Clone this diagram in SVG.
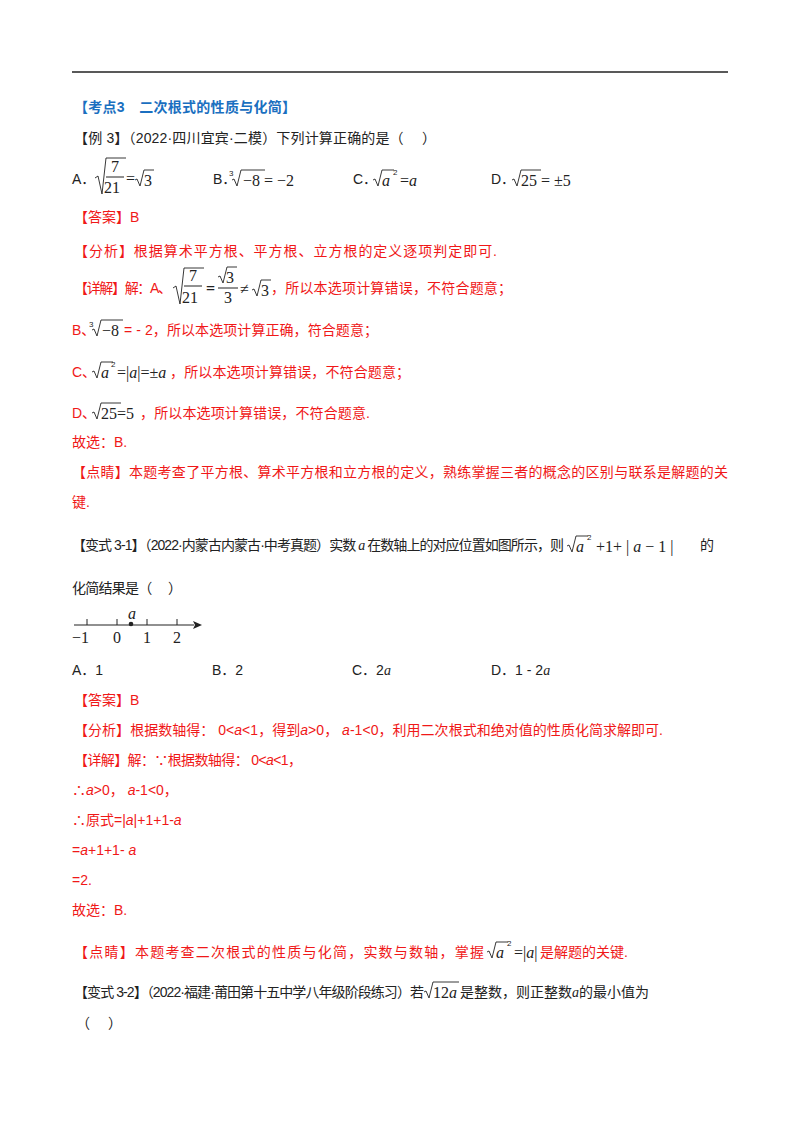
<svg xmlns="http://www.w3.org/2000/svg" width="800" height="1132" viewBox="0 0 800 1132">
<style>
text{font-family:"Liberation Sans","Noto Sans CJK SC",sans-serif;font-size:14px;fill:#222}
.r{fill:#f01818}
.b{fill:#1a6fc0;font-weight:bold}
.m{font-family:"Liberation Serif","Noto Sans CJK SC",serif;font-size:16px}
.i{font-style:italic}
.s{font-size:8px}
.rad{fill:none;stroke:#222;stroke-width:0.9}
</style>
<rect width="800" height="1132" fill="#fff"/>
<line x1="72" y1="72" x2="728" y2="72" stroke="#222" stroke-width="1.5"/>
<text x="74" y="112" class="b" textLength="222">【考点3　二次根式的性质与化简】</text>
<text x="74" y="143" textLength="362">【例 3】（2022·四川宜宾·二模）下列计算正确的是（　 ）</text>
<g id="options1">
<text x="72" y="184">A．</text>
<path class="rad" d="M95,178 l3,-2 l4,18 l4,-36 h20"/>
<text x="111" y="172" class="m">7</text><line x1="106" y1="177" x2="124" y2="177" stroke="#222"/><text x="104" y="193" class="m">21</text>
<text x="126" y="184" class="m">=</text><path class="rad" d="M135,180 l2,-1 l3,7 l4,-16 h10"/><text x="144" y="186" class="m">3</text>
<text x="213" y="184">B．</text><text x="229" y="176" class="s">3</text>
<path class="rad" d="M232,180 l2,-1 l3,7 l4,-16 h24"/><text x="243" y="186" class="m">−8 = −2</text>
<text x="353" y="184">C．</text><path class="rad" d="M373,180 l2,-1 l3,7 l4,-16 h12"/>
<text x="382" y="186" class="m i">a</text><text x="393" y="175" class="s">2</text><text x="400" y="186" class="m">=<tspan class="i">a</tspan></text>
<text x="491" y="184">D．</text><path class="rad" d="M512,180 l2,-1 l3,7 l4,-16 h20"/><text x="521" y="186" class="m">25 = ±5</text>
</g>
<text x="74" y="222" class="r">【答案】B</text>
<text x="74" y="256" class="r" textLength="423">【分析】根据算术平方根、平方根、立方根的定义逐项判定即可.</text>
<g id="detail1">
<text x="74" y="293" class="r" textLength="98">【详解】解：A、</text>
<path class="rad" d="M173,288 l3,-2 l4,18 l4,-36 h20"/>
<text x="189" y="281" class="m">7</text><line x1="184" y1="286" x2="202" y2="286" stroke="#222"/><text x="182" y="303" class="m">21</text>
<text x="206" y="294" class="m" font-weight="bold">=</text>
<path class="rad" d="M218,277 l2,-1 l3,7 l4,-16 h10"/><text x="226" y="283" class="m">3</text>
<line x1="218" y1="288" x2="238" y2="288" stroke="#222"/><text x="224" y="303" class="m">3</text>
<text x="240" y="294" class="m">≠</text><path class="rad" d="M252,290 l2,-1 l3,7 l4,-16 h10"/><text x="261" y="296" class="m">3</text>
<text x="271" y="293" class="r" textLength="241">，所以本选项计算错误，不符合题意；</text>
</g>
<text x="72" y="335" class="r">B、</text><text x="89" y="327" class="s">3</text>
<path class="rad" d="M92,330 l2,-1 l3,7 l4,-16 h22"/><text x="102" y="336" class="m">−8</text>
<text x="124" y="335" class="r" textLength="254">= - 2，所以本选项计算正确，符合题意；</text>
<text x="72" y="377" class="r">C、</text><path class="rad" d="M92,372 l2,-1 l3,7 l4,-16 h12"/>
<text x="101" y="378" class="m i">a</text><text x="111" y="367" class="s">2</text>
<text x="117" y="378" class="m">=|<tspan class="i">a</tspan>|=±<tspan class="i">a</tspan></text>
<text x="170" y="377" class="r" textLength="240">，所以本选项计算错误，不符合题意；</text>
<text x="72" y="418" class="r">D、</text><path class="rad" d="M92,413 l2,-1 l3,7 l4,-16 h20"/>
<text x="101" y="419" class="m">25=5</text>
<text x="140" y="418" class="r" textLength="230">，所以本选项计算错误，不符合题意.</text>
<text x="72" y="447" class="r">故选：B.</text>
<text x="72" y="477" class="r" textLength="656">【点睛】本题考查了平方根、算术平方根和立方根的定义，熟练掌握三者的概念的区别与联系是解题的关</text>
<text x="72" y="507" class="r">键.</text>
<text x="72" y="550" textLength="492">【变式 3-1】（2022·内蒙古内蒙古·中考真题）实数 <tspan class="i" font-family="Liberation Serif">a</tspan> 在数轴上的对应位置如图所示，则</text>
<path class="rad" d="M567,546 l2,-1 l3,7 l4,-16 h12"/>
<text x="576" y="552" class="m i">a</text><text x="587" y="540" class="s">2</text>
<text x="596" y="552" class="m">+1+ | <tspan class="i">a</tspan> − 1 |</text><text x="700" y="550">的</text>
<text x="72" y="593" textLength="110">化简结果是（　 ）</text>
<g id="numberline">
<line x1="74" y1="625" x2="194" y2="625" stroke="#222" stroke-width="1.2"/>
<path d="M202,625 l-9,-4 l2,4 l-2,4 z" fill="#222"/>
<g stroke="#222"><line x1="87" y1="619" x2="87" y2="625"/><line x1="117" y1="619" x2="117" y2="625"/><line x1="147" y1="619" x2="147" y2="625"/><line x1="177" y1="619" x2="177" y2="625"/></g>
<circle cx="131" cy="624" r="2.3" fill="#222"/>
<text x="128" y="619" class="m i">a</text>
<text x="72" y="643" class="m">−1</text><text x="113" y="643" class="m">0</text><text x="143" y="643" class="m">1</text><text x="173" y="643" class="m">2</text>
</g>
<text x="72" y="675">A．1</text><text x="212" y="675">B．2</text><text x="352" y="675">C．2<tspan class="i" font-family="Liberation Serif">a</tspan></text><text x="491" y="675">D．1 - 2<tspan class="i" font-family="Liberation Serif">a</tspan></text>
<text x="74" y="705" class="r">【答案】B</text>
<text x="74" y="735" class="r" textLength="589">【分析】根据数轴得： 0&lt;<tspan class="i">a</tspan>&lt;1，得到<tspan class="i">a</tspan>&gt;0， <tspan class="i">a</tspan>-1&lt;0，利用二次根式和绝对值的性质化简求解即可.</text>
<text x="74" y="765" class="r" textLength="228">【详解】解：∵根据数轴得： 0&lt;<tspan class="i">a</tspan>&lt;1，</text>
<text x="72" y="795" class="r">∴<tspan class="i">a</tspan>&gt;0，  <tspan class="i">a</tspan>-1&lt;0，</text>
<text x="72" y="825" class="r">∴原式=|<tspan class="i">a</tspan>|+1+1-<tspan class="i">a</tspan></text>
<text x="72" y="855" class="r">=<tspan class="i">a</tspan>+1+1-  <tspan class="i">a</tspan></text>
<text x="72" y="885" class="r">=2.</text>
<text x="72" y="915" class="r">故选：B.</text>
<text x="74" y="957" class="r" textLength="410">【点睛】本题考查二次根式的性质与化简，实数与数轴，掌握</text>
<path class="rad" d="M487,952 l2,-1 l3,7 l4,-16 h12"/>
<text x="496" y="958" class="m i">a</text><text x="507" y="946" class="s">2</text>
<text x="514" y="958" class="m">=|<tspan class="i">a</tspan>|</text>
<text x="540" y="957" class="r">是解题的关键.</text>
<text x="74" y="997" textLength="350">【变式 3-2】（2022·福建·莆田第十五中学八年级阶段练习）若</text>
<path class="rad" d="M424,992 l2,-1 l3,7 l4,-16 h26"/><text x="433" y="998" class="m">12<tspan class="i">a</tspan></text>
<text x="460" y="997">是整数，则正整数<tspan class="i" font-family="Liberation Serif">a</tspan>的最小值为</text>
<text x="76" y="1028">（　 ）</text>
</svg>
